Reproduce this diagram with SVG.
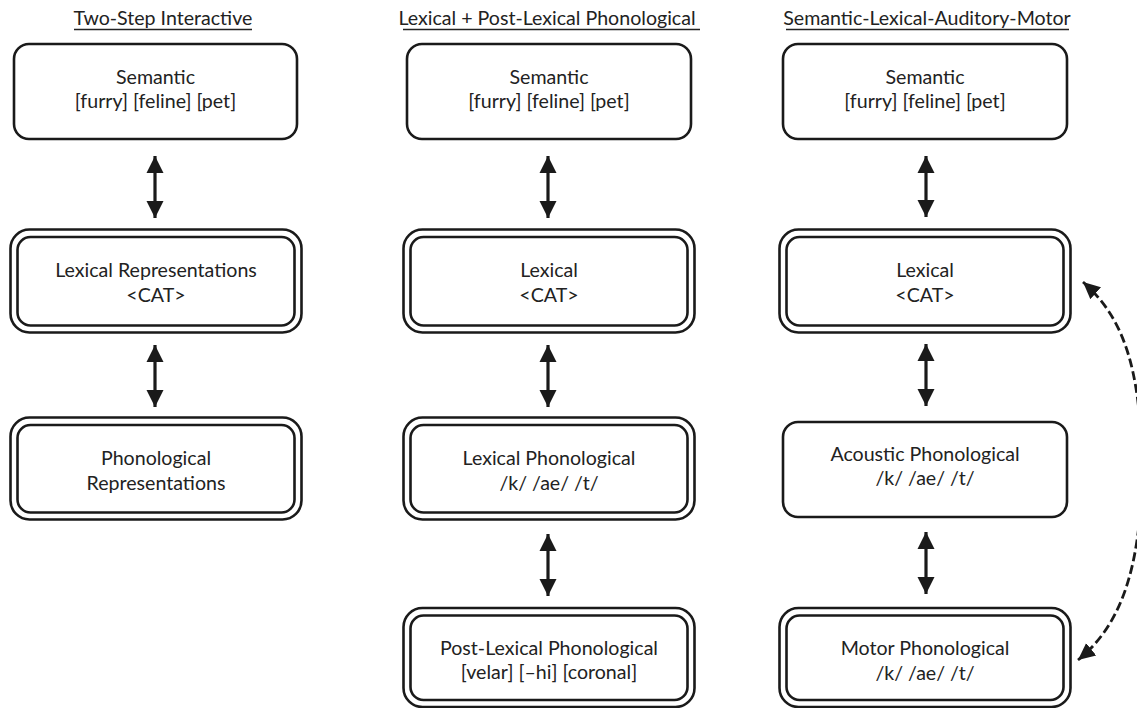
<svg xmlns="http://www.w3.org/2000/svg" width="1137" height="708" viewBox="0 0 1137 708">
<style>
.t{font-family:Lato,"Open Sans","Liberation Sans",sans-serif;font-size:19.6px;fill:#222;text-anchor:middle}
.b{fill:#fff;stroke:#1a1a1a;stroke-width:2.6}
.u{stroke:#222;stroke-width:1.5}
.a{stroke:#1a1a1a;stroke-width:3.2;fill:none;marker-start:url(#ah);marker-end:url(#ah)}
.d{stroke:#1a1a1a;stroke-width:2.8;fill:none;stroke-dasharray:9 4;marker-start:url(#dh);marker-end:url(#dh)}
</style>
<defs>
<marker id="ah" markerUnits="userSpaceOnUse" markerWidth="18" markerHeight="18" viewBox="0 0 18 18" refX="17" refY="9" orient="auto-start-reverse"><path d="M0,0.5 L17,9 L0,17.5 z" fill="#1a1a1a"/></marker>
<marker id="dh" markerUnits="userSpaceOnUse" markerWidth="18" markerHeight="18" viewBox="0 0 18 18" refX="17" refY="9" orient="auto-start-reverse"><path d="M0,1 L17,9 L0,17 z" fill="#1a1a1a"/></marker>
</defs>
<rect width="1137" height="708" fill="#fff"/>

<g id="titles">
<text class="t" x="163" y="25">Two-Step Interactive</text>
<line class="u" x1="74" y1="29.5" x2="252" y2="29.5"/>
<text class="t" x="547" y="25">Lexical + Post-Lexical Phonological</text>
<line class="u" x1="403" y1="29.5" x2="700" y2="29.5"/>
<text class="t" x="927" y="25">Semantic-Lexical-Auditory-Motor</text>
<line class="u" x1="786" y1="29.5" x2="1069" y2="29.5"/>
</g>

<g id="connectors">
<line class="a" x1="155" y1="156" x2="155" y2="218"/>
<line class="a" x1="155" y1="345" x2="155" y2="407"/>
<line class="a" x1="548" y1="156" x2="548" y2="218"/>
<line class="a" x1="548" y1="345" x2="548" y2="407"/>
<line class="a" x1="548" y1="534" x2="548" y2="596"/>
<line class="a" x1="926" y1="156" x2="926" y2="217"/>
<line class="a" x1="926" y1="344" x2="926" y2="406"/>
<line class="a" x1="926" y1="532" x2="926" y2="594"/>
<path class="d" d="M1083,282 C1120,315 1141,360 1142,470 C1141,580 1115,630 1078,660"/>
</g>

<g id="c1-semantic">
<rect class="b" x="14" y="44" width="283" height="95" rx="15"/>
<text class="t" x="155.5" y="84">Semantic</text>
<text class="t" x="155.5" y="108">[furry] [feline] [pet]</text>
</g>
<g id="c1-lexical">
<rect class="b" x="10.5" y="229.5" width="291" height="103" rx="19"/>
<rect class="b" x="17.5" y="237" width="277" height="88.5" rx="13"/>
<text class="t" x="156" y="277">Lexical Representations</text>
<text class="t" x="156" y="302">&lt;CAT&gt;</text>
</g>
<g id="c1-phonological">
<rect class="b" x="10.5" y="417.5" width="291" height="102" rx="19"/>
<rect class="b" x="17.5" y="425" width="277" height="87.5" rx="13"/>
<text class="t" x="156" y="465">Phonological</text>
<text class="t" x="156" y="490">Representations</text>
</g>

<g id="c2-semantic">
<rect class="b" x="407" y="44" width="284" height="95" rx="15"/>
<text class="t" x="549" y="84">Semantic</text>
<text class="t" x="549" y="108">[furry] [feline] [pet]</text>
</g>
<g id="c2-lexical">
<rect class="b" x="403.5" y="229.5" width="291" height="103" rx="19"/>
<rect class="b" x="410.5" y="237" width="277" height="88.5" rx="13"/>
<text class="t" x="549" y="277">Lexical</text>
<text class="t" x="549" y="302">&lt;CAT&gt;</text>
</g>
<g id="c2-lexical-phonological">
<rect class="b" x="403.5" y="417.5" width="291" height="102" rx="19"/>
<rect class="b" x="410.5" y="425" width="277" height="87.5" rx="13"/>
<text class="t" x="549" y="465">Lexical Phonological</text>
<text class="t" x="549" y="490">/k/ /ae/ /t/</text>
</g>
<g id="c2-post-lexical">
<rect class="b" x="403.5" y="608" width="291" height="99" rx="19"/>
<rect class="b" x="410.5" y="615.5" width="277" height="84.5" rx="13"/>
<text class="t" x="549" y="655">Post-Lexical Phonological</text>
<text class="t" x="549" y="679">[velar] [–hi] [coronal]</text>
</g>

<g id="c3-semantic">
<rect class="b" x="783" y="44" width="284" height="95" rx="15"/>
<text class="t" x="925" y="84">Semantic</text>
<text class="t" x="925" y="108">[furry] [feline] [pet]</text>
</g>
<g id="c3-lexical">
<rect class="b" x="779.5" y="229.5" width="291" height="103" rx="19"/>
<rect class="b" x="786.5" y="237" width="277" height="88.5" rx="13"/>
<text class="t" x="925" y="277">Lexical</text>
<text class="t" x="925" y="302">&lt;CAT&gt;</text>
</g>
<g id="c3-acoustic">
<rect class="b" x="783" y="422" width="284" height="95" rx="15"/>
<text class="t" x="925" y="461">Acoustic Phonological</text>
<text class="t" x="925" y="485">/k/ /ae/ /t/</text>
</g>
<g id="c3-motor">
<rect class="b" x="779.5" y="608" width="291" height="99" rx="19"/>
<rect class="b" x="786.5" y="615.5" width="277" height="84.5" rx="13"/>
<text class="t" x="925" y="655">Motor Phonological</text>
<text class="t" x="925" y="680">/k/ /ae/ /t/</text>
</g>
</svg>
